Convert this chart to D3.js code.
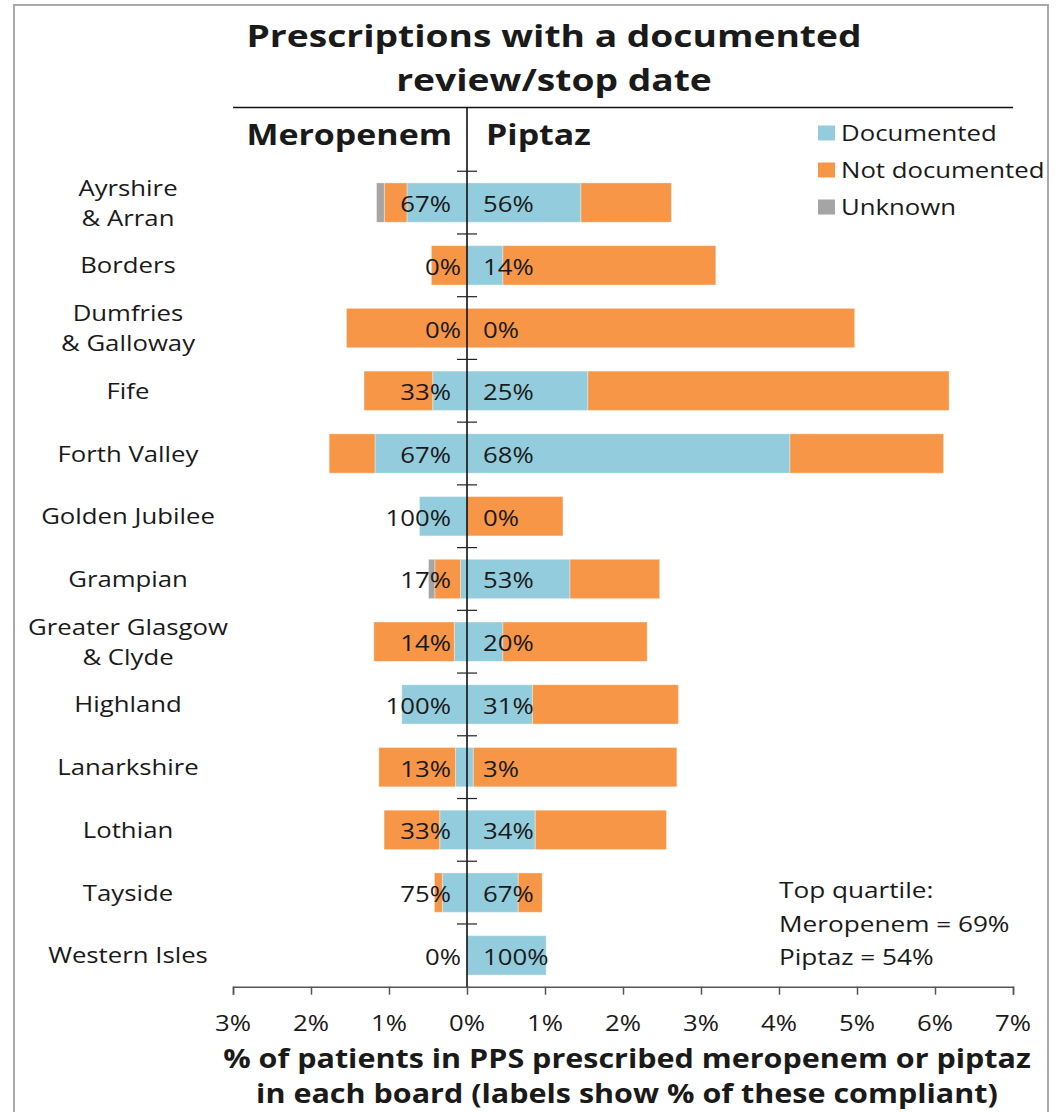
<!DOCTYPE html>
<html>
<head>
<meta charset="utf-8">
<script src="https://cdn.jsdelivr.net/npm/d3@7"></script>
<style>
  html, body { margin: 0; padding: 0; background: #fff; }
  svg { display: block; }
  text { font-family: "Open Sans", "DejaVu Sans", sans-serif; fill: #1a1a1a; }
</style>
</head>
<body>
<svg id="chart" width="1058" height="1112"></svg>
<script>
// ---------------- data ----------------
const categories = [
  "Ayrshire & Arran", "Borders", "Dumfries & Galloway", "Fife", "Forth Valley",
  "Golden Jubilee", "Grampian", "Greater Glasgow & Clyde", "Highland",
  "Lanarkshire", "Lothian", "Tayside", "Western Isles"
];
const categoryLines = [
  ["Ayrshire", "& Arran"], ["Borders"], ["Dumfries", "& Galloway"], ["Fife"], ["Forth Valley"],
  ["Golden Jubilee"], ["Grampian"], ["Greater Glasgow", "& Clyde"], ["Highland"],
  ["Lanarkshire"], ["Lothian"], ["Tayside"], ["Western Isles"]
];
// % of patients (meropenem drawn to the left)
const meropenemDocumented    = [0.77, 0,     0,     0.44, 1.18,  0.61, 0.083, 0.163, 0.836, 0.147, 0.35,  0.316, 0];
const meropenemNotDocumented = [0.29, 0.457, 1.545, 0.88, 0.587, 0,    0.33,  1.032, 0,     0.983, 0.713, 0.102, 0];
const meropenemUnknown       = [0.10, 0,     0,     0,    0,     0,    0.08,  0,     0,     0,     0,     0,     0];
const piptazDocumented       = [1.46, 0.46,  0,     1.55, 4.14,  0,    1.32,  0.46,  0.84,  0.081, 0.875, 0.657, 1.015];
const piptazNotDocumented    = [1.16, 2.73,  4.97,  4.63, 1.97,  1.23, 1.15,  1.85,  1.87,  2.609, 1.682, 0.307, 0];
const meropenemLabels = ["67%", "0%", "0%", "33%", "67%", "100%", "17%", "14%", "100%", "13%", "33%", "75%", "0%"];
const piptazLabels    = ["56%", "14%", "0%", "25%", "68%", "0%", "53%", "20%", "31%", "3%", "34%", "67%", "100%"];
const xTicks = [-3, -2, -1, 0, 1, 2, 3, 4, 5, 6, 7];
const seriesNames = ["Documented", "Not documented", "Unknown"];
const seriesColors = ["#93CDDD", "#F79646", "#A5A5A5"];
const titleLines = ["Prescriptions with a documented", "review/stop date"];
const axisTitleLines = ["% of patients in PPS prescribed meropenem or piptaz",
                        "in each board (labels show % of these compliant)"];
const noteLines = ["Top quartile:", "Meropenem = 69%", "Piptaz = 54%"];

// ---------------- layout ----------------
const svg = d3.select("#chart");
const SX = 1.17; // horizontal text stretch of the original rendering
const plot = { left: 233, right: 1013, top: 108.5, bottom: 986.7 };

function stext(g, x, y, str, opts = {}) {
  return g.append("text")
    .attr("transform", `translate(${x},${y}) scale(${opts.sx || SX},1)`)
    .attr("text-anchor", opts.anchor || "start")
    .style("font-size", (opts.size || 22) + "px")
    .style("font-weight", opts.bold ? "700" : "400")
    .text(str);
}

// frame
svg.append("rect").attr("x", 14).attr("y", 5).attr("width", 1034).attr("height", 1120)
  .attr("fill", "none").attr("stroke", "#a9a9a9").attr("stroke-width", 2);

const x = d3.scaleLinear().domain([-3, 7]).range([plot.left, plot.right]);
const yDomain = ["__header__"].concat(categories);
const y = d3.scaleBand().domain(yDomain).range([plot.top, plot.bottom])
  .paddingInner(0.373).paddingOuter(0.1865);
const step = y.step();
const yc = c => y(c) + y.bandwidth() / 2;

// stacked segments
const segs = [];
categories.forEach((c, i) => {
  let l = 0;
  [[meropenemDocumented[i], 0], [meropenemNotDocumented[i], 1], [meropenemUnknown[i], 2]].forEach(([v, s]) => {
    if (v > 0) segs.push({ c, x0: -(l + v), x1: -l, s });
    l += v;
  });
  let r = 0;
  [[piptazDocumented[i], 0], [piptazNotDocumented[i], 1]].forEach(([v, s]) => {
    if (v > 0) segs.push({ c, x0: r, x1: r + v, s });
    r += v;
  });
});

svg.append("g").selectAll("rect").data(segs).join("rect")
  .attr("x", d => x(d.x0))
  .attr("width", d => x(d.x1) - x(d.x0))
  .attr("y", d => y(d.c))
  .attr("height", y.bandwidth())
  .attr("fill", d => seriesColors[d.s])
  .attr("stroke", "#ffffff").attr("stroke-opacity", 0.35).attr("stroke-width", 1);

// top line
svg.append("line").attr("x1", plot.left).attr("x2", plot.right)
  .attr("y1", plot.top - 1).attr("y2", plot.top - 1)
  .attr("stroke", "#111").attr("stroke-width", 1.5);

// x axis
const xAxis = svg.append("g").attr("transform", `translate(0,${plot.bottom})`)
  .call(d3.axisBottom(x).tickValues(xTicks).tickSize(8).tickFormat(""));
xAxis.select(".domain").attr("stroke", "#555").attr("stroke-width", 1.5);
xAxis.selectAll(".tick line").attr("stroke", "#555").attr("stroke-width", 1.5);
const tickG = svg.append("g");
xTicks.forEach(t => stext(tickG, x(t), 1031, Math.abs(t) + "%", { anchor: "middle", size: 22 }));

// center (category) axis
svg.append("line").attr("x1", x(0)).attr("x2", x(0))
  .attr("y1", plot.top - 1).attr("y2", plot.bottom)
  .attr("stroke", "#000").attr("stroke-width", 1.5);
svg.append("g").selectAll("line").data(categories).join("line")
  .attr("x1", x(0) - 10).attr("x2", x(0) + 10)
  .attr("y1", d => yc(d) - step / 2).attr("y2", d => yc(d) - step / 2)
  .attr("stroke", "#222").attr("stroke-width", 1.2);

// value labels
const lab = svg.append("g");
categories.forEach((c, i) => {
  const off = meropenemDocumented[i] > 0 ? 16 : 6;
  stext(lab, x(0) - off, yc(c) + 9.5, meropenemLabels[i], { anchor: "end", size: 22 });
  stext(lab, x(0) + 16, yc(c) + 9.5, piptazLabels[i], { anchor: "start", size: 22 });
});

// category labels
const catG = svg.append("g");
categories.forEach((c, i) => {
  const lines = categoryLines[i];
  const base = lines.length === 1 ? yc(c) + 8 : yc(c) - 7;
  lines.forEach((ln, k) => stext(catG, 128, base + k * 30, ln, { anchor: "middle", size: 22 }));
});

// header row
stext(svg, x(0) - 15, 145, "Meropenem", { anchor: "end", size: 29, bold: true });
stext(svg, x(0) + 19, 145, "Piptaz", { anchor: "start", size: 29, bold: true });

// title
titleLines.forEach((t, k) => stext(svg, 554, 47 + k * 44, t, { anchor: "middle", size: 31, bold: true, sx: 1.2 }));

// axis title
axisTitleLines.forEach((t, k) => stext(svg, 627, 1068 + k * 35, t, { anchor: "middle", size: 27, bold: true, sx: 1.13 }));

// legend
const leg = svg.append("g");
seriesNames.forEach((n, k) => {
  const ly = 133 + k * 37;
  leg.append("rect").attr("x", 818).attr("y", ly - 7.5).attr("width", 17).attr("height", 15)
    .attr("fill", seriesColors[k]);
  stext(leg, 841, ly + 8, n, { size: 22 });
});

// note
noteLines.forEach((t, k) => stext(svg, 779, 898 + k * 33.5, t, { size: 22, sx: 1.19 }));
</script>
</body>
</html>
